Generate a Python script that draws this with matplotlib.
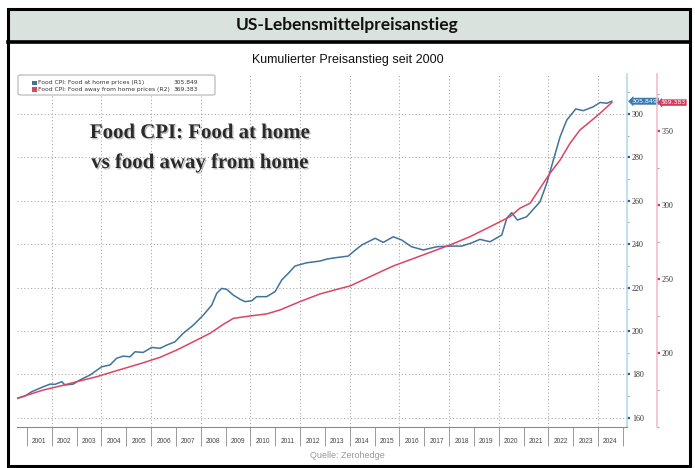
import matplotlib
matplotlib.use("Agg")
import matplotlib.pyplot as plt
import matplotlib.patches as mpatches
import matplotlib.patheffects as pe
import matplotlib.transforms as mtransforms
from matplotlib.ticker import MultipleLocator, FixedLocator, NullFormatter, FixedFormatter

# ---------------- data ----------------
title = "US-Lebensmittelpreisanstieg"
subtitle = "Kumulierter Preisanstieg seit 2000"
source = "Quelle: Zerohedge"
annotation_lines = ["Food CPI: Food at home", "vs food away from home"]

series_names = ["Food CPI: Food at home prices (R1)",
                "Food CPI: Food away from home prices (R2)"]

dates_home = [2000.60, 2000.92, 2001.19, 2001.66, 2001.93, 2002.13, 2002.40, 2002.53, 2002.86,
              2003.13, 2003.54, 2004.01, 2004.34, 2004.61, 2004.87, 2005.15, 2005.35, 2005.68,
              2006.02, 2006.36, 2006.63, 2006.96, 2007.29, 2007.70, 2008.10, 2008.44, 2008.64,
              2008.84, 2009.04, 2009.31, 2009.58, 2009.78, 2010.05, 2010.25, 2010.65, 2010.99,
              2011.26, 2011.52, 2011.79, 2012.26, 2012.80, 2013.07, 2013.40, 2013.94, 2014.14,
              2014.48, 2015.02, 2015.35, 2015.75, 2016.09, 2016.49, 2016.96, 2017.50, 2018.04,
              2018.51, 2018.91, 2019.24, 2019.65, 2020.12, 2020.32, 2020.52, 2020.75, 2021.12,
              2021.66, 2021.93, 2022.20, 2022.47, 2022.74, 2023.10, 2023.40, 2023.81, 2024.08,
              2024.35, 2024.55]
values_home = [168.9, 170.0, 172.0, 174.3, 175.5, 175.4, 176.6, 175.1, 175.5,
               177.4, 179.7, 183.5, 184.3, 187.4, 188.4, 188.1, 190.4, 190.1,
               192.4, 192.0, 193.5, 195.0, 198.9, 202.7, 207.3, 211.9, 217.3,
               219.6, 219.2, 216.5, 214.6, 213.5, 213.9, 215.8, 215.8, 218.1,
               223.5, 226.5, 229.9, 231.4, 232.2, 233.1, 233.7, 234.5, 236.5,
               239.6, 242.7, 240.8, 243.4, 241.9, 238.8, 237.3, 238.8, 239.1,
               239.1, 240.6, 242.2, 241.1, 244.2, 251.9, 254.5, 251.1, 252.6,
               259.5, 268.0, 278.8, 289.5, 297.2, 302.3, 301.5, 303.3, 305.3,
               304.9, 305.849]

dates_away = [2000.60, 2001.66, 2002.33, 2003.00, 2003.81, 2004.34, 2005.02, 2005.68, 2006.36,
              2007.03, 2007.70, 2008.37, 2008.91, 2009.31, 2009.98, 2010.65, 2011.19, 2011.99,
              2012.80, 2013.48, 2014.01, 2014.82, 2015.75, 2016.83, 2018.04, 2018.84, 2019.65,
              2020.45, 2020.85, 2021.26, 2021.66, 2022.06, 2022.47, 2022.87, 2023.27, 2023.68,
              2024.08, 2024.55]
values_away = [169.6, 175.2, 177.9, 180.8, 184.2, 186.9, 190.3, 193.6, 197.3,
               202.2, 207.8, 213.5, 219.6, 223.6, 225.2, 226.6, 229.3, 234.9,
               240.1, 243.2, 245.5, 251.8, 259.0, 265.7, 273.2, 278.8, 285.5,
               292.3, 298.0, 301.4, 311.5, 321.6, 330.6, 341.9, 350.9, 356.5,
               362.2, 369.383]

years = list(range(2001, 2025))
grid_years = list(range(2002, 2026, 2))
r1_ticks = [160, 180, 200, 220, 240, 260, 280, 300]
r2_ticks = [200, 250, 300, 350]

# ---------------- styling ----------------
BLUE = "#3f729c"
RED = "#dc4560"
W, H = 695, 468

fig = plt.figure(figsize=(W / 100, H / 100), dpi=100)
fig.patch.set_facecolor("white")

# frame, title band
band = mpatches.Rectangle((8 / W, 1 - 41 / H), (690 - 8) / W, 32 / H,
                          transform=fig.transFigure, facecolor="#d9e2dc",
                          edgecolor="none", zorder=0)
fig.add_artist(band)
frame = mpatches.Rectangle((8 / W, 1 - 466 / H), (690 - 8) / W, (466 - 8.5) / H,
                           transform=fig.transFigure, facecolor="none",
                           edgecolor="black", lw=2.2, zorder=5)
fig.add_artist(frame)
fig.add_artist(plt.Line2D([8 / W, 690 / W], [1 - 41.5 / H, 1 - 41.5 / H],
                          transform=fig.transFigure, color="black", lw=2.6, zorder=5))

fig.text(0.5, 1 - 25 / H, title, ha="center", va="center", fontsize=12.5,
         fontweight="bold", family="Lato", color="#111")
fig.text(0.5, 1 - 60 / H, subtitle, ha="center", va="center", fontsize=9,
         family="Liberation Sans", color="#111")
fig.text(0.5, 1 - 456 / H, source, ha="center", va="center", fontsize=6.5,
         family="Liberation Sans", color="#9a9a9a")

# axes
left_px, right_px, top_px, bottom_px = 17, 627, 74, 427.3
ax = fig.add_axes([left_px / W, 1 - bottom_px / H, (right_px - left_px) / W,
                   (bottom_px - top_px) / H])
ax.set_facecolor("white")
ax.set_xlim(2000.597, 2025.164)
ax.set_ylim(155.6, 318.4)

# second axis (R2)
ax2 = ax.twinx()
ax2.set_ylim(150.0, 388.7)

for s in ["left", "top"]:
    ax.spines[s].set_visible(False)
ax.spines["right"].set_visible(True)
ax.spines["right"].set_color("#b5dcef")
ax.spines["right"].set_linewidth(1.2)
ax.spines["bottom"].set_color("#8a8a8a")
ax.spines["bottom"].set_linewidth(0.8)

ax.yaxis.tick_right()
ax.yaxis.set_label_position("right")
ax.yaxis.set_major_locator(FixedLocator(r1_ticks))
ax.yaxis.set_minor_locator(MultipleLocator(10))
ax.tick_params(axis="y", which="both", left=False, labelleft=False, right=True,
               labelright=True)
ax.tick_params(axis="y", which="major", direction="out", length=2.5, width=1.6,
               color="#2d5f8c", labelsize=5.8, labelcolor="#333", pad=1)
ax.tick_params(axis="y", which="minor", direction="out", length=1.5, width=0.8,
               color="#8aa7bd")
for lab in ax.get_yticklabels():
    lab.set_family("Liberation Serif")

# x axis: year separators (major) + centered labels (minor)
ax.xaxis.set_major_locator(FixedLocator([y for y in years] + [years[-1] + 1]))
ax.xaxis.set_major_formatter(NullFormatter())
ax.xaxis.set_minor_locator(FixedLocator([y + 0.5 for y in years]))
ax.xaxis.set_minor_formatter(FixedFormatter([str(y) for y in years]))
ax.tick_params(axis="x", which="major", direction="out", length=13.5, width=0.6,
               color="#8a8a8a")
ax.tick_params(axis="x", which="minor", length=0, labelsize=4.8, labelcolor="#444",
               pad=7.5)
for lab in ax.get_xticklabels(minor=True):
    lab.set_family("Liberation Sans")

# grid
ax.yaxis.grid(True, which="major", linestyle=(0, (1, 2.5)), color="#9a9a9a", lw=0.7)
for gy in grid_years:
    ax.axvline(gy, linestyle=(0, (1, 2.5)), color="#9a9a9a", lw=0.7, zorder=0.5)

ax.plot(dates_home, values_home, color=BLUE, lw=1.1, zorder=3)

for s in ["left", "top", "bottom"]:
    ax2.spines[s].set_visible(False)
r2_pos = (657 - left_px) / (right_px - left_px)
ax2.spines["right"].set_position(("axes", r2_pos))
ax2.spines["right"].set_color("#f2bccb")
ax2.spines["right"].set_linewidth(1.2)
ax2.yaxis.set_major_locator(FixedLocator(r2_ticks))
ax2.yaxis.set_minor_locator(MultipleLocator(25))
ax2.tick_params(axis="y", which="major", direction="out", length=2.5, width=1.6,
                color="#d9385a", labelsize=5.8, labelcolor="#333", pad=1)
ax2.tick_params(axis="y", which="minor", direction="out", length=1.5, width=0.8,
                color="#999")
for lab in ax2.get_yticklabels():
    lab.set_family("Liberation Serif")

ax2.plot(dates_away, values_away, color=RED, lw=1.1, zorder=3)

# last value tags
tr1 = mtransforms.blended_transform_factory(ax.transAxes, ax.transData)
tr2 = mtransforms.blended_transform_factory(ax2.transAxes, ax2.transData)
ax.text(1.008, values_home[-1], f"{values_home[-1]:.3f}", transform=tr1, ha="left",
        va="center", fontsize=4.6, color="white", family="DejaVu Sans", zorder=10,
        bbox=dict(boxstyle="larrow,pad=0.15", fc="#3a78b0", ec="none"), clip_on=False)
ax2.text(r2_pos + 0.006, values_away[-1], f"{values_away[-1]:.3f}", transform=tr2,
         ha="left", va="center", fontsize=4.4, color="white", family="DejaVu Sans",
         zorder=10, bbox=dict(boxstyle="larrow,pad=0.12", fc="#d9385a", ec="none"),
         clip_on=False)

# legend box
def ax_x(px):
    return (px - left_px) / (right_px - left_px)

def ax_y(py):
    return (bottom_px - py) / (bottom_px - top_px)

leg = mpatches.FancyBboxPatch((ax_x(18), ax_y(95)), ax_x(215) - ax_x(18), ax_y(75) - ax_y(95),
                              boxstyle="round,pad=0,rounding_size=0.004",
                              transform=ax2.transAxes, facecolor="white",
                              edgecolor="#9a9a9a", lw=0.6, zorder=8)
ax2.add_patch(leg)
rows_y = [83.0, 89.5]
colors = [BLUE, RED]
last_vals = [values_home[-1], values_away[-1]]
for name, col, val, ry in zip(series_names, colors, last_vals, rows_y):
    ax2.add_patch(mpatches.Rectangle((ax_x(31.5), ax_y(ry + 2.3)), ax_x(36.5) - ax_x(31.5),
                                     ax_y(ry - 2.3) - ax_y(ry + 2.3),
                                     transform=ax2.transAxes, facecolor=col,
                                     edgecolor="none", zorder=9))
    ax2.text(ax_x(38.5), ax_y(ry), name, transform=ax2.transAxes, ha="left", va="center",
             fontsize=4.3, color="#333", family="DejaVu Sans", zorder=9)
    ax2.text(ax_x(198), ax_y(ry), f"{val:.3f}", transform=ax2.transAxes, ha="right",
             va="center", fontsize=4.3, color="#333", family="DejaVu Sans", zorder=9)

# big annotation
for line, ypx in zip(annotation_lines, [133, 163]):
    ax2.text(ax_x(200), ax_y(ypx), line, transform=ax2.transAxes, ha="center",
             va="center", fontsize=15, fontweight="bold", family="Liberation Serif",
             color="#2a2a2a", zorder=9,
             path_effects=[pe.withSimplePatchShadow(offset=(1, -1), alpha=0.25)])

fig.savefig("out.png", dpi=100, facecolor="white")
